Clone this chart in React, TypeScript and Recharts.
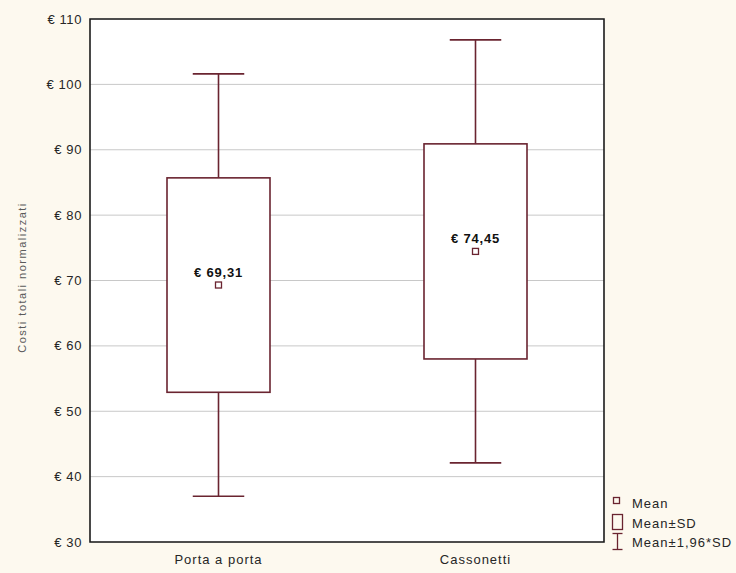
import React from 'react';
import {
  ComposedChart,
  Bar,
  XAxis,
  YAxis,
  CartesianGrid,
  ReferenceArea,
} from 'recharts';

// Normalised total cost per collection system (mean, ±SD, ±1.96*SD)
const categories = ['Porta a porta', 'Cassonetti'];
const meanValues = [69.31, 74.45];
const sdLower = [52.9, 58.0];
const sdUpper = [85.7, 90.9];
const ciLower = [37.0, 42.1];
const ciUpper = [101.6, 106.8];
const yTicks = [30, 40, 50, 60, 70, 80, 90, 100, 110];

const rows = categories.map((name, i) => ({
  name,
  mean: meanValues[i],
  sdLow: sdLower[i],
  sdHigh: sdUpper[i],
  ciLow: ciLower[i],
  ciHigh: ciUpper[i],
  range: [ciLower[i], ciUpper[i]],
}));

const FONT = '"Liberation Sans", Arial, sans-serif';
const MAROON = '#6a2430';
const TEXT = '#262626';

const euro = (v: number) => `€ ${v}`;
const euroDec = (v: number) => `€ ${v.toFixed(2).replace('.', ',')}`;

// Draws whiskers, SD box, mean marker and mean label inside the bar slot.
const BoxShape = (props: any) => {
  const { x, y, width, height, payload } = props;
  if (!payload) return null;
  const top = Math.min(y, y + height);
  const bottom = Math.max(y, y + height);
  const span = payload.ciHigh - payload.ciLow;
  const toY = (v: number) => bottom - ((v - payload.ciLow) / span) * (bottom - top);
  const cx = x + width / 2;
  const capHalf = width / 4;
  const yHi = toY(payload.ciHigh);
  const yLo = toY(payload.ciLow);
  const yBoxTop = toY(payload.sdHigh);
  const yBoxBot = toY(payload.sdLow);
  const yMean = toY(payload.mean);
  const lineProps = { stroke: MAROON, strokeWidth: 1.6 };
  return (
    <g>
      <line x1={cx} x2={cx} y1={yHi} y2={yBoxTop} {...lineProps} />
      <line x1={cx} x2={cx} y1={yBoxBot} y2={yLo} {...lineProps} />
      <line x1={cx - capHalf} x2={cx + capHalf} y1={yHi} y2={yHi} {...lineProps} />
      <line x1={cx - capHalf} x2={cx + capHalf} y1={yLo} y2={yLo} {...lineProps} />
      <rect x={x} y={yBoxTop} width={width} height={yBoxBot - yBoxTop} fill="#ffffff" {...lineProps} />
      <rect x={cx - 3} y={yMean - 3} width={6} height={6} fill="#ffffff" stroke={MAROON} strokeWidth={1.3} />
      <text
        x={cx}
        y={yMean - 13}
        textAnchor="middle"
        dominantBaseline="central"
        fontFamily={FONT}
        fontSize={13}
        fontWeight="bold"
        letterSpacing={0.8}
        fill="#111"
      >
        {euroDec(payload.mean)}
      </text>
    </g>
  );
};

const LegendMarks = () => (
  <g fontFamily={FONT} fontSize={13} fill={TEXT} letterSpacing={1}>
    <rect x={613.5} y={497.5} width={6} height={6} fill="none" stroke={MAROON} strokeWidth={1.3} />
    <text x={632} y={503} dominantBaseline="central">Mean</text>
    <rect x={612.5} y={514.5} width={10} height={15} fill="none" stroke={MAROON} strokeWidth={1.3} />
    <text x={632} y={523} dominantBaseline="central">Mean±SD</text>
    <line x1={617.5} x2={617.5} y1={533} y2={550} stroke={MAROON} strokeWidth={1.3} />
    <line x1={612.5} x2={622.5} y1={533.5} y2={533.5} stroke={MAROON} strokeWidth={1.3} />
    <line x1={612.5} x2={622.5} y1={549.5} y2={549.5} stroke={MAROON} strokeWidth={1.3} />
    <text x={632} y={542} dominantBaseline="central">Mean±1,96*SD</text>
  </g>
);

const YTitle = (props: any) => {
  const vb = props.viewBox || { y: 19, height: 523 };
  const cy = vb.y + vb.height / 2 - 3;
  return (
    <text
      x={22}
      y={cy}
      transform={`rotate(-90, 22, ${cy})`}
      textAnchor="middle"
      dominantBaseline="central"
      fontFamily={FONT}
      fontSize={11}
      letterSpacing={1.5}
      fill="#5a5a5a"
    >
      Costi totali normalizzati
    </text>
  );
};

export default function App() {
  return (
    <div
      style={{
        position: 'absolute',
        left: 0,
        top: 0,
        width: 736,
        height: 573,
        background: '#fdf9ef',
      }}
    >
      <ComposedChart
        width={736}
        height={573}
        data={rows}
        margin={{ top: 19, right: 132, bottom: 1, left: 0 }}
      >
        <CartesianGrid vertical={false} stroke="#c8c8c8" fill="#ffffff" fillOpacity={1} />
        <XAxis
          dataKey="name"
          height={30}
          axisLine={false}
          tickLine={false}
          tickSize={6}
          tickMargin={7}
          tick={{ fontFamily: FONT, fontSize: 13, fill: TEXT, letterSpacing: 1 }}
        />
        <YAxis
          type="number"
          width={90}
          domain={[30, 110]}
          ticks={yTicks}
          interval={0}
          allowDataOverflow
          tickFormatter={euro}
          axisLine={false}
          tickLine={false}
          tickSize={6}
          tickMargin={2}
          tick={{ fontFamily: FONT, fontSize: 13, fill: TEXT, letterSpacing: 0.6 }}
          label={<YTitle />}
        />
        <Bar dataKey="range" barSize={103} shape={<BoxShape />} isAnimationActive={false} />
        <ReferenceArea y1={30} y2={110} fill="none" stroke="#1c1c1c" strokeWidth={1.6} ifOverflow="visible" />
        <LegendMarks />
      </ComposedChart>
    </div>
  );
}
